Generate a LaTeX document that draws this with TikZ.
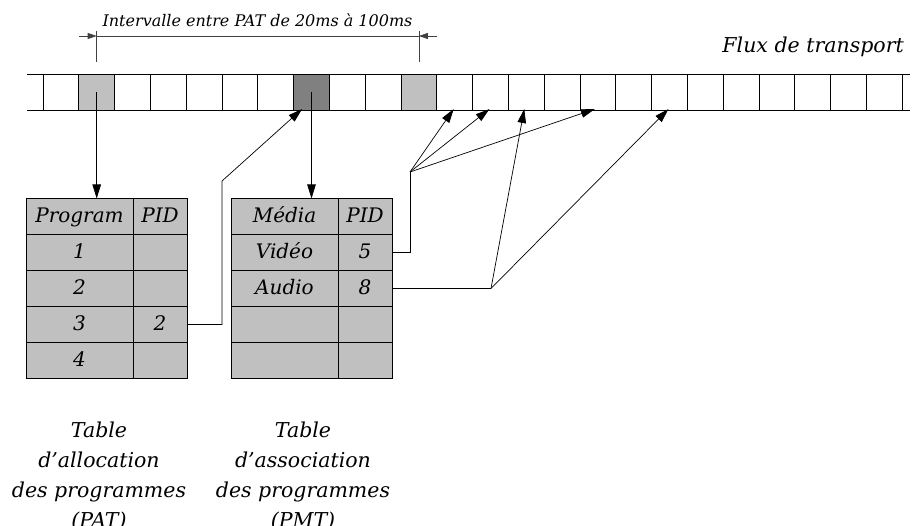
\documentclass[tikz,border=0pt]{standalone}
\usepackage{fontspec}
\setmainfont{DejaVu Serif}
\usetikzlibrary{arrows.meta,calc}
\definecolor{lgray}{HTML}{C0C0C0}
\definecolor{dgray}{HTML}{808080}
\newcommand\mytfont{\fontsize{20}{24}\selectfont\itshape}
\begin{document}
\begin{tikzpicture}[x=1pt,y=-1pt,
  cell/.style={draw,minimum width=35.8pt,minimum height=36pt,inner sep=0pt,outer sep=0pt,line width=0.9pt},
  tc/.style={draw,fill=lgray,minimum height=36pt,inner sep=0pt,outer sep=0pt,line width=0.8pt,font=\mytfont,text height=15pt,text depth=2pt},
  wide/.style={tc,minimum width=107pt},
  narrow/.style={tc,minimum width=54pt},
  arr/.style={-{Triangle[length=14pt,width=8.5pt]},line width=0.7pt},
  link/.style={line width=0.8pt},
  dim/.style={line width=0.7pt,black!75},
  dimarr/.style={-{Triangle[length=9pt,width=6pt]},line width=0.7pt,black!75},
  lbl/.style={align=center,inner sep=0pt,anchor=north,font=\fontsize{20.5}{30}\selectfont\itshape}
]
\useasboundingbox (0,0) rectangle (916,526);
% transport stream
\foreach \k in {0,...,23}{
  \node[cell] (c\k) at ({60.9+35.8*\k},92) {};
}
\fill[lgray] (c1.north west) rectangle (c1.south east);
\fill[dgray] (c7.north west) rectangle (c7.south east);
\fill[lgray] (c10.north west) rectangle (c10.south east);
\foreach \k in {1,7,10}{\draw[line width=0.9pt] (c\k.north west) rectangle (c\k.south east);}
\coordinate (sl) at (27,74);
\coordinate (sr) at (910,74);
\draw[line width=0.9pt] (sl) -- (sr);
\draw[line width=0.9pt] (27,110) -- (910,110);
\node[anchor=base east,inner sep=0pt,font=\fontsize{20.5}{24}\selectfont\itshape] (flux) at (904,53) {Flux de transport};
% interval
\coordinate (i1t) at (96.7,31);
\coordinate (i1b) at (96.7,62);
\coordinate (i2t) at (418.9,31);
\coordinate (i2b) at (418.9,62);
\coordinate (i1m) at (96.7,36);
\coordinate (i2m) at (418.9,36);
\coordinate (i1o) at (79,36);
\coordinate (i2o) at (437,36);
\draw[dim] (i1t) -- (i1b);
\draw[dim] (i2t) -- (i2b);
\draw[dim] (i1m) -- (i2m);
\draw[dimarr] (i1o) -- (i1m);
\draw[dimarr] (i2o) -- (i2m);
\node[anchor=base,inner sep=0pt,font=\fontsize{16}{18}\selectfont\itshape] (ilabel) at (257.5,26.5) {Intervalle entre PAT de 20ms à 100ms};
% PAT table
\node[wide]   (ph)  at (79.5,216.5) {Program};
\node[narrow] (phb) at (160,216.5) {PID};
\node[wide]   (p1)  at (79.5,252.5) {1};
\node[narrow] (p1b) at (160,252.5) {};
\node[wide]   (p2)  at (79.5,288.5) {2};
\node[narrow] (p2b) at (160,288.5) {};
\node[wide]   (p3)  at (79.5,324.5) {3};
\node[narrow] (p3b) at (160,324.5) {2};
\node[wide]   (p4)  at (79.5,360.5) {4};
\node[narrow] (p4b) at (160,360.5) {};
% PMT table
\node[wide]   (mh)  at (284.5,216.5) {Média};
\node[narrow] (mhb) at (365,216.5) {PID};
\node[wide]   (m1)  at (284.5,252.5) {Vidéo};
\node[narrow] (m1b) at (365,252.5) {5};
\node[wide]   (m2)  at (284.5,288.5) {Audio};
\node[narrow] (m2b) at (365,288.5) {8};
\node[wide]   (m3)  at (284.5,324.5) {};
\node[narrow] (m3b) at (365,324.5) {};
\node[wide]   (m4)  at (284.5,360.5) {};
\node[narrow] (m4b) at (365,360.5) {};
% arrows from stream to tables
\draw[arr] (c1.center) -- (c1.center |- ph.north);
\draw[arr] (c7.center) -- (c7.center |- mh.north);
% PAT -> PMT packet
\coordinate (pj) at (222,181);
\draw[arr] (p3b.east) -| (pj) -- ($(c7.south west)+(8.5,-1)$);
% Video
\coordinate (vj) at (410,172);
\draw[link] (m1b.east) -| (vj);
\draw[arr] (vj) -- ($(c11.south)+(-1,-1)$);
\draw[arr] (vj) -- ($(c12.south)+(-1,-1)$);
\draw[arr] (vj) -- ($(c15.south)+(-3,-1)$);
% Audio
\coordinate (aj) at (491,288.5);
\draw[link] (m2b.east) -- (aj);
\draw[arr] (aj) -- ($(c13.south)+(-2,-1)$);
\draw[arr] (aj) -- ($(c17.south)+(-1,-1)$);
% labels
\node[lbl] (patl) at (99,421.5) {Table\\d'allocation\\des programmes\\(PAT)};
\node[lbl] (pmtl) at (303,421.5) {Table\\d'association\\des programmes\\(PMT)};
\end{tikzpicture}
\end{document}
